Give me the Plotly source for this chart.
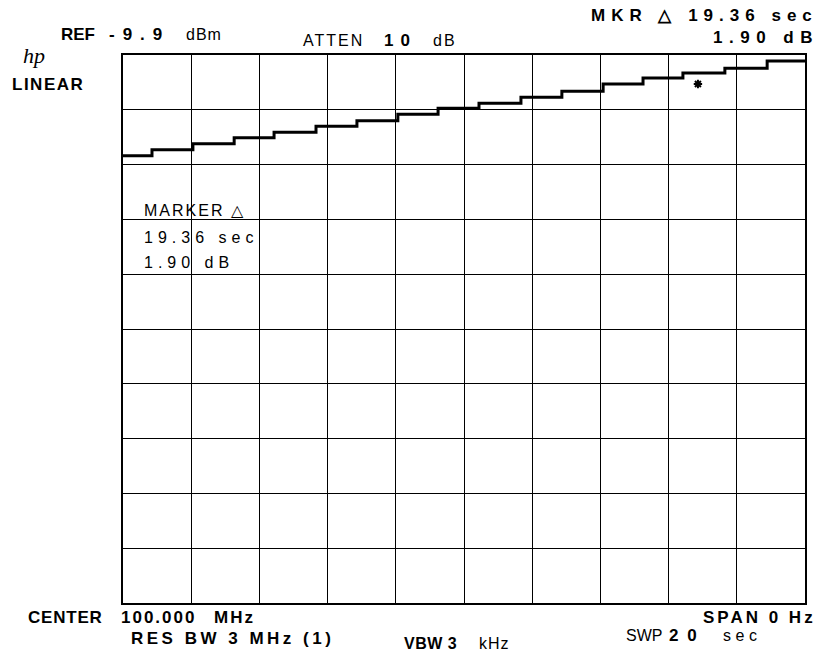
import plotly.graph_objects as go

# ---- data ----
sweep_time = 20  # seconds, 10 divisions of 2 s
step_times = [0, 0.85, 2.05, 3.26, 4.43, 5.66, 6.86, 8.06, 9.24, 10.44,
              11.67, 12.87, 14.08, 15.25, 16.42, 17.65, 18.89]
step_levels = [8.16, 8.27, 8.38, 8.49, 8.59, 8.70, 8.80, 8.92, 9.03, 9.12,
               9.23, 9.34, 9.47, 9.58, 9.67, 9.76, 9.89]
marker_time = [16.86]
marker_level = [9.47]

W, H = 830, 654
L, R, T, B = 123, 805, 55, 603


def px(xp):
    return (xp - L) / (R - L)


def py(yp):
    return (B - yp) / (B - T)


fig = go.Figure()
fig.add_trace(go.Scatter(
    x=step_times + [sweep_time],
    y=step_levels + [step_levels[-1]],
    mode="lines", line=dict(color="black", width=3, shape="hv"),
    hoverinfo="skip", showlegend=False))
fig.add_trace(go.Scatter(
    x=marker_time, y=marker_level, mode="markers",
    marker=dict(symbol="asterisk", size=7, color="black",
                line=dict(color="black", width=2)),
    hoverinfo="skip", showlegend=False))

SANS = "Liberation Sans, Arial, sans-serif"
anns = []


def add(text, x, y, anchor="left", size=15, bold=False, ls=0, family=SANS, italic=False):
    t = text
    if bold:
        t = "<b>" + t + "</b>"
    if ls:
        t = '<span style="letter-spacing:%spx">%s</span>' % (ls, t)
    if italic:
        t = "<i>" + t + "</i>"
    anns.append(dict(text=t, x=px(x), y=py(y), xref="paper", yref="paper",
                     xanchor=anchor, yanchor="middle", showarrow=False,
                     font=dict(family=family, size=size, color="black")))


add("hp", 21, 55, size=22, italic=True, family="Liberation Serif, serif")
add("REF", 59, 35, size=17, bold=True)
add("-9.9", 107, 35, size=17, bold=True, ls=8)
add("dBm", 184, 35, size=16, ls=1)
add("LINEAR", 10, 84, size=17, bold=True, ls=1.5)
add("ATTEN", 301, 41, size=16, ls=2)
add("10", 382, 41, size=17, bold=True, ls=7)
add("dB", 431, 41, size=16, ls=2)
add("MKR △ 19.36 sec", 820, 16, anchor="right", size=17, bold=True, ls=6)
add("1.90 dB", 821, 38, anchor="right", size=17, bold=True, ls=6.5)
add("MARKER △", 142, 210, size=16, ls=2)
add("19.36 sec", 142, 237, size=16, ls=5)
add("1.90 dB", 142, 262, size=16, ls=5)
add("CENTER", 26, 617, size=17, bold=True, ls=0.8)
add("100.000", 119, 617, size=17, bold=True, ls=2)
add("MHz", 212, 617, size=17, bold=True, ls=2)
add("RES BW 3 MHz (1)", 129, 638, size=17, bold=True, ls=3.5)
add("VBW 3", 402, 643, size=16, bold=True, ls=0.5)
add("kHz", 477, 643, size=16, ls=1)
add("SPAN 0 Hz", 818, 617, anchor="right", size=17, bold=True, ls=3)
add("SWP", 624, 635, size=16)
add("2 0", 667, 635, size=17, bold=True, ls=2)
add("sec", 721, 635, size=16, ls=4.5)

axis_common = dict(showgrid=True, gridcolor="black", gridwidth=1.2,
                   showline=True, linecolor="black", linewidth=2, mirror=True,
                   zeroline=False, showticklabels=False, ticks="", fixedrange=True)

fig.update_layout(
    width=W, height=H,
    margin=dict(l=L, r=W - R, t=T, b=H - B),
    paper_bgcolor="white", plot_bgcolor="white",
    xaxis=dict(range=[0, sweep_time], dtick=2, **axis_common),
    yaxis=dict(range=[0, 10], dtick=1, **axis_common),
    annotations=anns,
    showlegend=False,
)

fig.write_html("out.html", config={"displayModeBar": False},
               post_script="document.body.style.margin='0';document.body.style.overflow='hidden';")
